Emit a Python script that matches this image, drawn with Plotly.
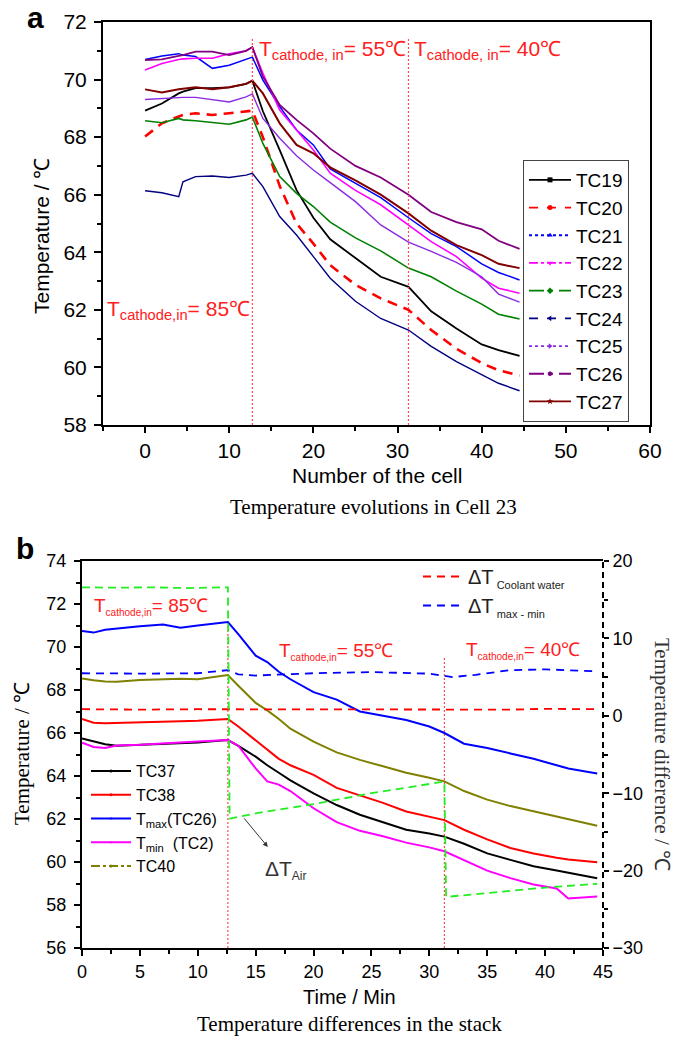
import plotly.graph_objects as go

W, H = 685, 1040
SANS = "Liberation Sans, Arial, sans-serif"
SERIF = "Liberation Serif, Times New Roman, serif"

# ---------------- Panel a data ----------------
time_a = [0, 2, 4, 4.5, 6, 8, 10, 12, 12.75, 14, 16, 18, 20, 22, 25, 28, 31.3, 34, 37, 40, 42, 44.5]
tc19 = [68.92, 69.17, 69.52, 69.58, 69.70, 69.70, 69.73, 69.85, 69.96, 68.90, 67.55, 66.16, 65.20, 64.45, 63.80, 63.15, 62.80, 61.95, 61.35, 60.80, 60.60, 60.40]
tc20 = [68.02, 68.48, 68.72, 68.77, 68.83, 68.77, 68.83, 68.88, 68.92, 68.00, 66.30, 65.00, 64.30, 63.55, 62.87, 62.40, 62.00, 61.30, 60.65, 60.15, 59.90, 59.72]
tc21 = [70.70, 70.82, 70.90, 70.85, 70.80, 70.39, 70.50, 70.70, 70.78, 69.98, 69.06, 68.25, 67.73, 66.90, 66.40, 65.90, 65.20, 64.65, 64.20, 63.60, 63.30, 63.04]
tc22 = [70.33, 70.56, 70.70, 70.72, 70.74, 70.74, 70.90, 71.00, 71.12, 70.22, 68.94, 68.25, 67.55, 66.75, 66.15, 65.65, 64.95, 64.37, 63.85, 63.10, 62.75, 62.58]
tc23 = [68.57, 68.50, 68.65, 68.60, 68.57, 68.50, 68.45, 68.60, 68.70, 67.78, 66.63, 66.05, 65.59, 65.05, 64.50, 64.05, 63.45, 63.15, 62.65, 62.20, 61.85, 61.68]
tc24 = [66.14, 66.07, 65.93, 66.45, 66.63, 66.65, 66.60, 66.68, 66.74, 66.28, 65.24, 64.60, 63.85, 63.10, 62.30, 61.70, 61.30, 60.73, 60.20, 59.75, 59.45, 59.19]
tc25 = [69.31, 69.34, 69.38, 69.38, 69.38, 69.29, 69.22, 69.40, 69.50, 68.65, 67.96, 67.35, 66.86, 66.42, 65.76, 64.95, 64.35, 64.03, 63.65, 63.15, 62.55, 62.27]
tc26 = [70.68, 70.70, 70.82, 70.85, 70.97, 70.97, 70.85, 71.00, 71.13, 70.10, 69.12, 68.60, 68.13, 67.60, 67.00, 66.60, 66.00, 65.40, 65.05, 64.80, 64.40, 64.12]
tc27 = [69.66, 69.55, 69.66, 69.68, 69.73, 69.66, 69.73, 69.85, 69.96, 69.52, 68.48, 67.73, 67.44, 66.95, 66.50, 66.00, 65.35, 64.75, 64.25, 63.90, 63.60, 63.45]
names_a = ["TC19", "TC20", "TC21", "TC22", "TC23", "TC24", "TC25", "TC26", "TC27"]
switch_a = [12.75, 31.3]

# ---------------- Panel b data ----------------
time_b = [0, 1, 2, 3, 5, 7, 8.5, 10, 12.6, 13.5, 15, 16, 17, 18, 20, 22, 24, 26, 28, 30, 31.3, 33, 35, 37, 39, 41, 42, 44.5]
tc37 = [65.75, 65.60, 65.48, 65.41, 65.45, 65.52, 65.54, 65.56, 65.67, 65.40, 64.90, 64.50, 64.15, 63.80, 63.19, 62.65, 62.20, 61.85, 61.50, 61.33, 61.18, 60.85, 60.40, 60.10, 59.80, 59.60, 59.50, 59.24]
tc38 = [66.65, 66.48, 66.45, 66.47, 66.48, 66.52, 66.55, 66.57, 66.65, 66.30, 65.67, 65.25, 64.80, 64.50, 64.05, 63.45, 63.10, 62.75, 62.35, 62.10, 61.95, 61.50, 61.05, 60.65, 60.40, 60.20, 60.12, 59.99]
tmax = [70.74, 70.67, 70.80, 70.86, 70.97, 71.05, 70.90, 71.00, 71.16, 70.60, 69.60, 69.30, 68.85, 68.50, 67.90, 67.55, 67.00, 66.80, 66.60, 66.30, 66.00, 65.50, 65.30, 65.05, 64.80, 64.50, 64.35, 64.12]
tmin = [65.55, 65.35, 65.30, 65.42, 65.45, 65.52, 65.55, 65.60, 65.67, 65.41, 64.35, 63.75, 63.60, 63.30, 62.50, 61.85, 61.45, 61.20, 60.90, 60.68, 60.50, 60.10, 59.60, 59.25, 58.95, 58.77, 58.30, 58.39]
tc40 = [68.54, 68.45, 68.40, 68.38, 68.46, 68.50, 68.52, 68.50, 68.70, 68.20, 67.40, 67.05, 66.65, 66.20, 65.60, 65.10, 64.75, 64.45, 64.15, 63.92, 63.75, 63.30, 62.90, 62.60, 62.35, 62.10, 62.00, 61.69]

time_dt = [0, 5, 10, 12.6, 13.5, 15, 20, 25, 30, 32, 34, 37, 40, 44.5]
dt_coolant = [0.85, 0.80, 0.85, 0.85, 0.85, 0.80, 0.80, 0.80, 0.85, 0.80, 0.85, 0.80, 0.90, 0.85]
dt_maxmin = [5.50, 5.45, 5.50, 5.90, 5.35, 5.20, 5.50, 5.65, 5.45, 5.00, 5.30, 5.90, 6.00, 5.75]
time_air = [0, 3, 6, 9, 12.6, 12.75, 15, 20, 25, 31.3, 31.45, 35, 40, 44.5]
dt_air = [16.6, 16.55, 16.6, 16.5, 16.6, -13.3, -12.6, -11.4, -10.0, -8.5, -23.4, -22.9, -22.2, -21.7]
switch_b = [12.6, 31.3]

# ---------------- geometry (pixels) ----------------
A_L, A_R, A_T, A_B = 103, 650, 22, 425
B_L, B_R, B_T, B_B = 82, 603, 561, 948


def fx(p):
    return p / W


def fy(p):
    return 1 - p / H


fig = go.Figure()

# ---------- Panel a traces ----------
style_a = {
    "TC19": dict(color="#000000", width=1.8, dash="solid", symbol="square"),
    "TC20": dict(color="#FF0000", width=2.6, dash="10px,7px", symbol="circle"),
    "TC21": dict(color="#0000FF", width=1.5, dash="solid", symbol="triangle-up"),
    "TC22": dict(color="#FF00FF", width=1.6, dash="solid", symbol="triangle-down"),
    "TC23": dict(color="#008000", width=1.6, dash="solid", symbol="diamond"),
    "TC24": dict(color="#000080", width=1.4, dash="solid", symbol="triangle-left"),
    "TC25": dict(color="#8A2BE2", width=1.4, dash="solid", symbol="triangle-right"),
    "TC26": dict(color="#800080", width=1.8, dash="solid", symbol="hexagon"),
    "TC27": dict(color="#800000", width=2.0, dash="solid", symbol="star"),
}
legend_dash_a = {
    "TC19": "solid", "TC20": "dash", "TC21": "dot", "TC22": "dashdot",
    "TC23": "longdashdot", "TC24": "dash", "TC25": "dot", "TC26": "longdashdot", "TC27": "solid",
}
series_a = [tc19, tc20, tc21, tc22, tc23, tc24, tc25, tc26, tc27]

for nm, ys in zip(names_a, series_a):
    s = style_a[nm]
    fig.add_trace(go.Scatter(x=time_a, y=ys, mode="lines", xaxis="x", yaxis="y",
                             line=dict(color=s["color"], width=s["width"], dash=s["dash"]),
                             showlegend=False, hoverinfo="skip"))

for t in switch_a:
    fig.add_trace(go.Scatter(x=[t, t], y=[58, 71.45], mode="lines", xaxis="x", yaxis="y",
                             line=dict(color="#FF4D4D", width=1.2, dash="2px,2px"),
                             showlegend=False, hoverinfo="skip"))

for nm in names_a:
    s = style_a[nm]
    fig.add_trace(go.Scatter(x=[None], y=[None], mode="lines+markers", name=nm, legend="legend",
                             xaxis="x", yaxis="y",
                             line=dict(color=s["color"], width=1.8, dash=legend_dash_a[nm]),
                             marker=dict(color=s["color"], size=5, symbol=s["symbol"])))

# ---------- Panel b traces ----------
for t in switch_b:
    top = 71.1 if t < 20 else 69.55
    fig.add_trace(go.Scatter(x=[t, t], y=[56, top], mode="lines", xaxis="x2", yaxis="y2",
                             line=dict(color="#FF4D4D", width=1.2, dash="2px,2px"),
                             showlegend=False, hoverinfo="skip"))

series_b = [
    ("TC37", tc37, "#000000", "circle", "solid"),
    ("TC38", tc38, "#FF0000", "circle", "solid"),
    ("T<sub>max</sub>(TC26)", tmax, "#0000FF", "triangle-up", "solid"),
    ("T<sub>min</sub>  (TC2)", tmin, "#FF00FF", "triangle-down", "solid"),
    ("TC40", tc40, "#808000", "diamond", "dashdot"),
]
for nm, ys, col, sym, ldash in series_b:
    fig.add_trace(go.Scatter(x=time_b, y=ys, mode="lines", xaxis="x2", yaxis="y2",
                             line=dict(color=col, width=2.0),
                             showlegend=False, hoverinfo="skip"))

fig.add_trace(go.Scatter(x=time_dt, y=dt_coolant, mode="lines", xaxis="x2", yaxis="y3",
                         name="ΔT<sub><span style='font-size:11px'> Coolant water</span></sub>",
                         legend="legend3",
                         line=dict(color="#FF0000", width=1.8, dash="8px,6px")))
fig.add_trace(go.Scatter(x=time_dt, y=dt_maxmin, mode="lines", xaxis="x2", yaxis="y3",
                         name="ΔT<sub><span style='font-size:11px'> max - min</span></sub>",
                         legend="legend3",
                         line=dict(color="#0000FF", width=1.8, dash="8px,6px")))
fig.add_trace(go.Scatter(x=time_air, y=dt_air, mode="lines", xaxis="x2", yaxis="y3",
                         line=dict(color="#22EE22", width=1.8, dash="8px,5px"),
                         showlegend=False, hoverinfo="skip"))

for nm, ys, col, sym, ldash in series_b:
    fig.add_trace(go.Scatter(x=[None], y=[None], mode="lines+markers", name=nm, legend="legend2",
                             xaxis="x2", yaxis="y2",
                             line=dict(color=col, width=2.0, dash=ldash),
                             marker=dict(color=col, size=3, symbol=sym)))

# ---------- axes ----------
axis_common = dict(showgrid=False, zeroline=False, showline=True, linecolor="black", linewidth=2,
                   ticks="outside", tickcolor="black", tickwidth=1.5, color="black")

fig.update_layout(
    xaxis=dict(**axis_common, domain=[fx(A_L), fx(A_R)], anchor="y", range=[-5, 60],
               tickvals=[0, 10, 20, 30, 40, 50, 60], ticklen=6, mirror=True,
               minor=dict(tickvals=[-5, 5, 15, 25, 35, 45, 55], ticklen=4, ticks="outside",
                          tickcolor="black", tickwidth=1.5),
               tickfont=dict(family=SANS, size=21)),
    yaxis=dict(**axis_common, domain=[fy(A_B), fy(A_T)], anchor="x", range=[58, 72],
               dtick=2, ticklen=7, mirror=True, ticklabelstandoff=3,
               minor=dict(dtick=1, ticklen=4, ticks="outside", tickcolor="black", tickwidth=1.5),
               tickfont=dict(family=SANS, size=21)),
    xaxis2=dict(**axis_common, domain=[fx(B_L), fx(B_R)], anchor="y2", range=[0, 45],
                dtick=5, ticklen=6, mirror=True,
                minor=dict(dtick=2.5, ticklen=4, ticks="outside", tickcolor="black", tickwidth=1.5),
                tickfont=dict(family=SANS, size=18)),
    yaxis2=dict(**axis_common, domain=[fy(B_B), fy(B_T)], anchor="x2", range=[56, 74],
                dtick=2, ticklen=6, mirror=False, ticklabelstandoff=4,
                minor=dict(dtick=1, ticklen=4, ticks="outside", tickcolor="black", tickwidth=1.5),
                tickfont=dict(family=SANS, size=18)),
    yaxis3=dict(showgrid=False, zeroline=False, showline=False, overlaying="y2", anchor="x2",
                side="right", range=[-30, 20], dtick=10, ticks="outside", ticklen=5,
                tickcolor="black", tickwidth=1.5, color="black",
                minor=dict(dtick=5, ticklen=4, ticks="outside", tickcolor="black", tickwidth=1.5),
                tickfont=dict(family=SANS, size=18)),
)

# dashed right axis line of panel b
fig.add_shape(type="line", xref="paper", yref="paper", x0=fx(B_R), x1=fx(B_R),
              y0=fy(B_B), y1=fy(B_T), line=dict(color="black", width=2, dash="6px,4px"))

# ---------- legends ----------
fig.update_layout(
    legend=dict(x=fx(523), y=fy(160), xanchor="left", yanchor="top", bgcolor="white",
                bordercolor="#444", borderwidth=1, font=dict(family=SANS, size=19, color="black"),
                itemwidth=42, tracegroupgap=0, itemclick=False),
    legend2=dict(x=fx(86), y=fy(754), xanchor="left", yanchor="top", bgcolor="rgba(0,0,0,0)",
                 borderwidth=0, font=dict(family=SANS, size=16, color="black"),
                 itemwidth=40, tracegroupgap=0),
    legend3=dict(x=fx(418), y=fy(557), xanchor="left", yanchor="top", bgcolor="rgba(0,0,0,0)",
                 borderwidth=0, font=dict(family=SANS, size=20, color="#222"),
                 itemwidth=40, tracegroupgap=0),
)

# ---------- annotations ----------
ann = []
RED = "#FF2020"


def ptext(text, x, y, size, family=SANS, color="black", xanchor="center", yanchor="middle", angle=0):
    ann.append(dict(text=text, x=fx(x), y=fy(y), xref="paper", yref="paper", showarrow=False,
                    font=dict(family=family, size=size, color=color), xanchor=xanchor,
                    yanchor=yanchor, textangle=angle))


# panel labels
ptext("<b>a</b>", 35, 17, 30)
ptext("<b>b</b>", 25, 548, 30)

# panel a titles
ptext("Number of the cell", 377, 476, 21)
ptext("Temperature / ℃", 42, 236, 21, angle=-90)
ptext("Temperature evolutions in Cell 23", 373, 507, 21, family=SERIF)

# panel b titles
ptext("Time / Min", 349, 997, 20)
ptext("Temperature / ℃", 22, 754, 21, family=SERIF, angle=-90)
ptext("Temperature difference / ℃", 662, 754, 21, family=SERIF, angle=90, color="#333")
ptext("Temperature differences in the stack", 349, 1024, 21, family=SERIF)

# condition labels panel a
ptext("T<sub>cathode, in</sub>= 55℃", 257, 50, 21, color=RED, xanchor="left")
ptext("T<sub>cathode, in</sub>= 40℃", 412, 50, 21, color=RED, xanchor="left")
ptext("T<sub>cathode,in</sub>= 85℃", 105, 310, 21, color=RED, xanchor="left")

# condition labels panel b
small = "<sub><span style='font-size:10px'>cathode,in</span></sub>"
ptext("T" + small + "= 85℃", 92, 606, 19, color=RED, xanchor="left")
ptext("T" + small + "= 55℃", 277, 651, 19, color=RED, xanchor="left")
ptext("T" + small + "= 40℃", 464, 650, 19, color=RED, xanchor="left")
ptext("ΔT<sub><span style='font-size:12px'>Air</span></sub>", 263, 870, 21, color="#333", xanchor="left")

# arrow to Delta T_air
ann.append(dict(x=16.05, y=60.7, ax=13.9, ay=62.1, xref="x2", yref="y2", axref="x2", ayref="y2",
                showarrow=True, arrowhead=2, arrowsize=1, arrowwidth=1, arrowcolor="#333", text=""))

fig.update_layout(
    annotations=ann,
    width=W, height=H,
    margin=dict(l=0, r=0, t=0, b=0, autoexpand=False),
    paper_bgcolor="white", plot_bgcolor="white",
    font=dict(family=SANS, color="black"),
    showlegend=True,
    template="none",
)

fig.write_html("out.html", config={"displayModeBar": False},
               post_script="document.body.style.margin='0px';document.body.style.padding='0px';")
